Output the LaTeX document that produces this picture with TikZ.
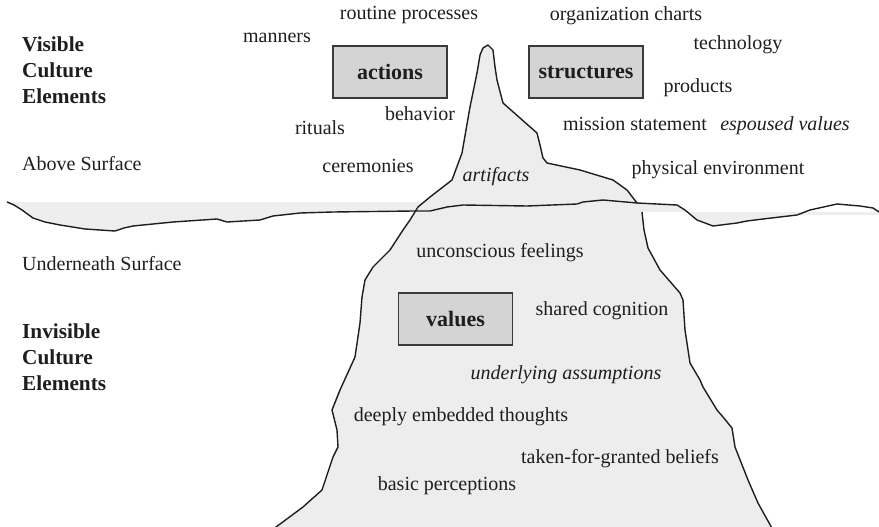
\documentclass[tikz,border=0pt]{standalone}
\usepackage{fontspec}
\setmainfont{Liberation Serif}
\definecolor{ink}{HTML}{1E1E1E}
\definecolor{ice}{HTML}{EDEDED}
\definecolor{water}{HTML}{EEEEEE}
\definecolor{boxgray}{HTML}{D4D4D4}
\definecolor{edge}{HTML}{3A3A3A}
\begin{document}
\begin{tikzpicture}[x=1pt,y=-1pt,
  lbl/.style={font=\fontsize{20}{24}\selectfont, text=ink, inner sep=0pt, anchor=mid},
  emph/.style={lbl, font=\fontsize{20}{24}\selectfont\itshape},
  side/.style={font=\fontsize{20}{24}\selectfont, text=ink, inner sep=0pt, anchor=base west},
  sidehead/.style={side, font=\fontsize{21.3}{25.8}\selectfont\bfseries, align=left},
  headbox/.style={draw=edge, line width=1.3pt, fill=boxgray, minimum width=114pt,
    minimum height=52pt, inner sep=0pt, font=\fontsize{22}{26}\selectfont\bfseries, text=ink},
  outline/.style={draw=ink, line width=1.4pt, line join=round}]
\useasboundingbox (0,0) rectangle (879,527);

% sea band
\fill[water] (7,202) -- (530,202) -- (530,212) -- (879,212) -- (879,215)
  -- (797,215) -- (763,219) -- (747,221) -- (737,223) -- (713,226) -- (697,220)
  -- (685,210) -- (677,205) -- (637,203) -- (413,211) -- (333,212) -- (300,213)
  -- (273,216) -- (260,220) -- (227,222) -- (217,219) -- (173,222) -- (133,226)
  -- (124,228) -- (115,231) -- (85,229) -- (60,225) -- (45,222) -- (33,218)
  -- (22,210) -- (14,205) -- cycle;

% iceberg body
\fill[ice] (637,203) -- (627,190) -- (613,180) -- (580,170) -- (547,163) -- (543,158)
  -- (540,145) -- (537,133) -- (520,118) -- (503,103) -- (497,80) -- (495,67)
  -- (493,50) -- (488,45) -- (483,48) -- (480,55) -- (477,73) -- (470,107)
  -- (466,130) -- (462,153) -- (452,180) -- (430,197) -- (418,207) -- (410,220)
  -- (403,230) -- (390,250) -- (373,267) -- (365,280) -- (362,297) -- (360,323)
  -- (355,357) -- (340,390) -- (332,410) -- (337,430) -- (338,447) -- (333,457)
  -- (322,490) -- (303,507) -- (272,530) -- (773,530) -- (758,503) -- (748,480)
  -- (735,447) -- (732,428) -- (723,417) -- (717,410) -- (703,387) -- (700,380)
  -- (690,363) -- (685,330) -- (683,300) -- (680,293) -- (660,270) -- (648,248)
  -- (644,230) -- (642,212) -- cycle;

% waterline
\draw[outline] (7,202) -- (14,205) -- (22,210) -- (33,218) -- (45,222) -- (60,225)
  -- (85,229) -- (115,231) -- (124,228) -- (133,226) -- (173,222) -- (217,219)
  -- (227,222) -- (260,220) -- (273,216) -- (300,213) -- (333,212) -- (413,211)
  -- (430,211) -- (447,207) -- (463,205) -- (527,206) -- (577,204) -- (583,202)
  -- (603,200) -- (637,203) -- (677,205) -- (685,210) -- (697,220) -- (713,226)
  -- (737,223) -- (747,221) -- (763,219) -- (797,215) -- (810,210) -- (837,204)
  -- (860,206) -- (873,208) -- (879,212);

% iceberg outline: tip and left flank
\draw[outline] (637,203) -- (627,190) -- (613,180) -- (580,170) -- (547,163) -- (543,158)
  -- (540,145) -- (537,133) -- (520,118) -- (503,103) -- (497,80) -- (495,67)
  -- (493,50) -- (488,45) -- (483,48) -- (480,55) -- (477,73) -- (470,107)
  -- (466,130) -- (462,153) -- (452,180) -- (430,197) -- (418,207) -- (410,220)
  -- (403,230) -- (390,250) -- (373,267) -- (365,280) -- (362,297) -- (360,323)
  -- (355,357) -- (340,390) -- (332,410) -- (337,430) -- (338,447) -- (333,457)
  -- (322,490) -- (303,507) -- (272,530);
% iceberg outline: right flank below the surface
\draw[outline] (642,212) -- (644,230) -- (648,248) -- (660,270) -- (680,293) -- (683,300)
  -- (685,330) -- (690,363) -- (700,380) -- (703,387) -- (717,410) -- (723,417)
  -- (732,428) -- (735,447) -- (748,480) -- (758,503) -- (773,530);

% category boxes
\node[headbox] (actions) at (390,72) {actions};
\node[headbox] (structures) at (586,72) {structures};
\node[headbox] (values) at (455.5,319) {values};

% side captions (base anchor sits on the last line)
\node[sidehead] (visible) at (22,103) {Visible\\Culture\\Elements};
\node[side] (above) at (22,170) {Above Surface};
\node[side] (under) at (22,270) {Underneath Surface};
\node[sidehead] (invisible) at (22,390) {Invisible\\Culture\\Elements};

% visible elements
\node[lbl] (routine) at (409,17) {routine processes};
\node[lbl] (manners) at (277,40) {manners};
\node[lbl] (orgcharts) at (626,18) {organization charts};
\node[lbl] (tech) at (738,47) {technology};
\node[lbl] (products) at (698,90) {products};
\node[lbl] (rituals) at (320,132) {rituals};
\node[lbl] (behavior) at (420,118) {behavior};
\node[lbl] (mission) at (635,128) {mission statement};
\node[emph] (espoused) at (785,128) {espoused values};
\node[lbl] (ceremonies) at (368,170) {ceremonies};
\node[emph] (artifacts) at (496,179) {artifacts};
\node[lbl] (physical) at (718,172) {physical environment};

% invisible elements
\node[lbl] (feelings) at (500,255) {unconscious feelings};
\node[lbl] (cognition) at (602,313) {shared cognition};
\node[emph] (assumptions) at (566,377) {underlying assumptions};
\node[lbl] (thoughts) at (461,419) {deeply embedded thoughts};
\node[lbl] (beliefs) at (620,461) {taken-for-granted beliefs};
\node[lbl] (perceptions) at (447,488) {basic perceptions};
\end{tikzpicture}
\end{document}
